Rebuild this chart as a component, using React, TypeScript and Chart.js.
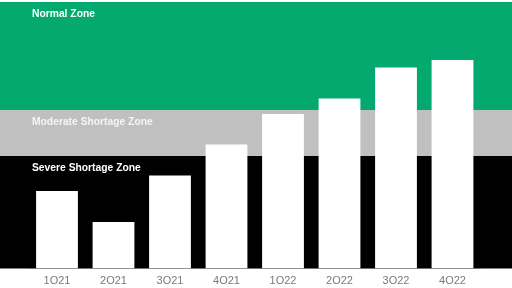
import React, { useEffect, useRef } from "react";
import { Chart, registerables } from "chart.js";

Chart.register(...registerables);

const categories = ["1Q21", "2Q21", "3Q21", "4Q21", "1Q22", "2Q22", "3Q22", "4Q22"];
const values = [77.5, 46.5, 93, 124, 154.5, 170, 201, 208.5];
const zoneNames = ["Severe Shortage Zone", "Moderate Shortage Zone", "Normal Zone"];
const zoneLower = [0, 112.5, 158.5];
const zoneUpper = [112.5, 158.5, 266.5];
const zoneColors = ["#000000", "#c0c0c0", "#03a96e"];
const yMax = 266.5;

const zonePlugin = {
  id: "zones",
  beforeDatasetsDraw(chart: any) {
    const { ctx, scales } = chart;
    const y = scales.y;
    const w = chart.width;
    ctx.save();
    for (let i = 0; i < zoneNames.length; i++) {
      const top = y.getPixelForValue(zoneUpper[i]);
      const bot = y.getPixelForValue(zoneLower[i]);
      ctx.fillStyle = zoneColors[i];
      ctx.fillRect(0, top, w, bot - top);
    }
    ctx.font = "bold 10.3px 'Liberation Sans', Arial, sans-serif";
    ctx.textBaseline = "middle";
    ctx.textAlign = "left";
    for (let i = 0; i < zoneNames.length; i++) {
      const top = y.getPixelForValue(zoneUpper[i]);
      ctx.fillStyle = i === 1 ? "#f4f4f4" : "#ffffff";
      ctx.fillText(zoneNames[i], 32, top + 12);
    }
    ctx.restore();
  },
};

export default function App() {
  const ref = useRef<HTMLCanvasElement>(null);
  useEffect(() => {
    const chart = new Chart(ref.current!, {
      type: "bar",
      data: {
        labels: categories,
        datasets: [
          {
            data: values,
            backgroundColor: "#ffffff",
            borderWidth: 0,
            barPercentage: 0.74,
            categoryPercentage: 1,
          },
        ],
      },
      options: {
        animation: false,
        responsive: false,
        maintainAspectRatio: false,
        layout: { padding: { left: 28.75, right: 31.25, top: 2, bottom: 4 } },
        plugins: { legend: { display: false }, tooltip: { enabled: false } },
        scales: {
          x: {
            grid: { display: false, tickLength: 0 },
            border: { display: true, color: "#e0e0e0" },
            ticks: {
              color: "#7a7a7a",
              font: { size: 11, family: "'Liberation Sans', Arial, sans-serif" },
              padding: 6,
            },
            afterFit: (s: any) => {
              s.height = 15.5;
            },
          },
          y: { display: false, min: 0, max: yMax },
        },
      },
      plugins: [zonePlugin],
    });
    return () => chart.destroy();
  }, []);
  return (
    <div style={{ position: "fixed", left: 0, top: 0, width: 512, height: 288, background: "#fff" }}>
      <canvas ref={ref} width={512} height={288} style={{ width: 512, height: 288 }} />
    </div>
  );
}
